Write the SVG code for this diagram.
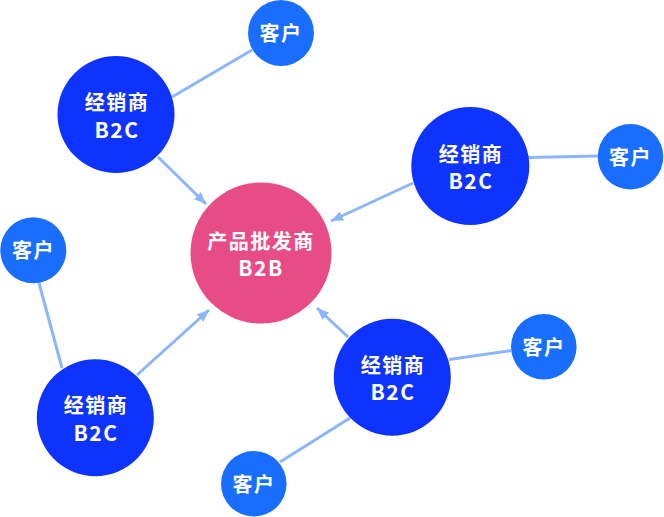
<svg xmlns="http://www.w3.org/2000/svg" width="664" height="517" viewBox="0 0 664 517">
<defs>
<style>
.dealer{fill:#0F33FF}
.cust{fill:#1A6EFF}
.center{fill:#E84C87}
.t{fill:#fff;font-family:"Noto Sans CJK SC","Noto Sans",sans-serif;font-weight:bold;font-size:20px;text-anchor:middle;letter-spacing:1.5px}
.lat{font-size:21px;letter-spacing:1.5px}
.ln{stroke:#8CB6FA;stroke-width:3;fill:none}
</style>
<marker id="arr" viewBox="0 0 12 10" refX="12" refY="5" markerWidth="12" markerHeight="10" markerUnits="userSpaceOnUse" orient="auto">
<path d="M0,0 L12,5 L0,10 z" fill="#8CB6FA"/>
</marker>
</defs>
<rect width="664" height="517" fill="#fff"/>
<g id="connectors">
<line class="ln" x1="172" y1="97" x2="252" y2="50"/>
<line class="ln" x1="528" y1="157.5" x2="598" y2="156"/>
<line class="ln" x1="39" y1="283" x2="62" y2="368"/>
<line class="ln" x1="449" y1="359.5" x2="511" y2="350.5"/>
<line class="ln" x1="350" y1="418" x2="280" y2="462"/>
<line class="ln" x1="158" y1="157" x2="206" y2="204" marker-end="url(#arr)"/>
<line class="ln" x1="413" y1="183" x2="331" y2="221" marker-end="url(#arr)"/>
<line class="ln" x1="137" y1="375" x2="209" y2="310" marker-end="url(#arr)"/>
<line class="ln" x1="348" y1="337" x2="317" y2="308" marker-end="url(#arr)"/>
</g>
<g id="wholesaler">
<circle class="center" cx="261" cy="253" r="70.5"/>
<text class="t" x="261" y="248.7">产品批发商</text>
<text class="t lat" x="261" y="276.3">B2B</text>
</g>
<g id="dealer1">
<circle class="dealer" cx="116" cy="114.5" r="58.5"/>
<text class="t" x="117" y="109.8">经销商</text>
<text class="t lat" x="117" y="137.5">B2C</text>
</g>
<g id="dealer2">
<circle class="dealer" cx="470.3" cy="166" r="59"/>
<text class="t" x="471" y="161.7">经销商</text>
<text class="t lat" x="471" y="189.3">B2C</text>
</g>
<g id="dealer3">
<circle class="dealer" cx="95.3" cy="417.7" r="58.5"/>
<text class="t" x="96" y="413">经销商</text>
<text class="t lat" x="96" y="441">B2C</text>
</g>
<g id="dealer4">
<circle class="dealer" cx="392.3" cy="377.2" r="58.5"/>
<text class="t" x="393" y="372.7">经销商</text>
<text class="t lat" x="393" y="400.3">B2C</text>
</g>
<g id="customer1">
<circle class="cust" cx="281" cy="33" r="33"/>
<text class="t" x="281" y="41">客户</text>
</g>
<g id="customer2">
<circle class="cust" cx="630.5" cy="156.8" r="32.8"/>
<text class="t" x="630.5" y="164.5">客户</text>
</g>
<g id="customer3">
<circle class="cust" cx="33.3" cy="250.3" r="33"/>
<text class="t" x="33.5" y="258">客户</text>
</g>
<g id="customer4">
<circle class="cust" cx="543.8" cy="346.7" r="32.8"/>
<text class="t" x="544" y="354.5">客户</text>
</g>
<g id="customer5">
<circle class="cust" cx="253.8" cy="483.8" r="32.8"/>
<text class="t" x="254" y="491.5">客户</text>
</g>
</svg>
